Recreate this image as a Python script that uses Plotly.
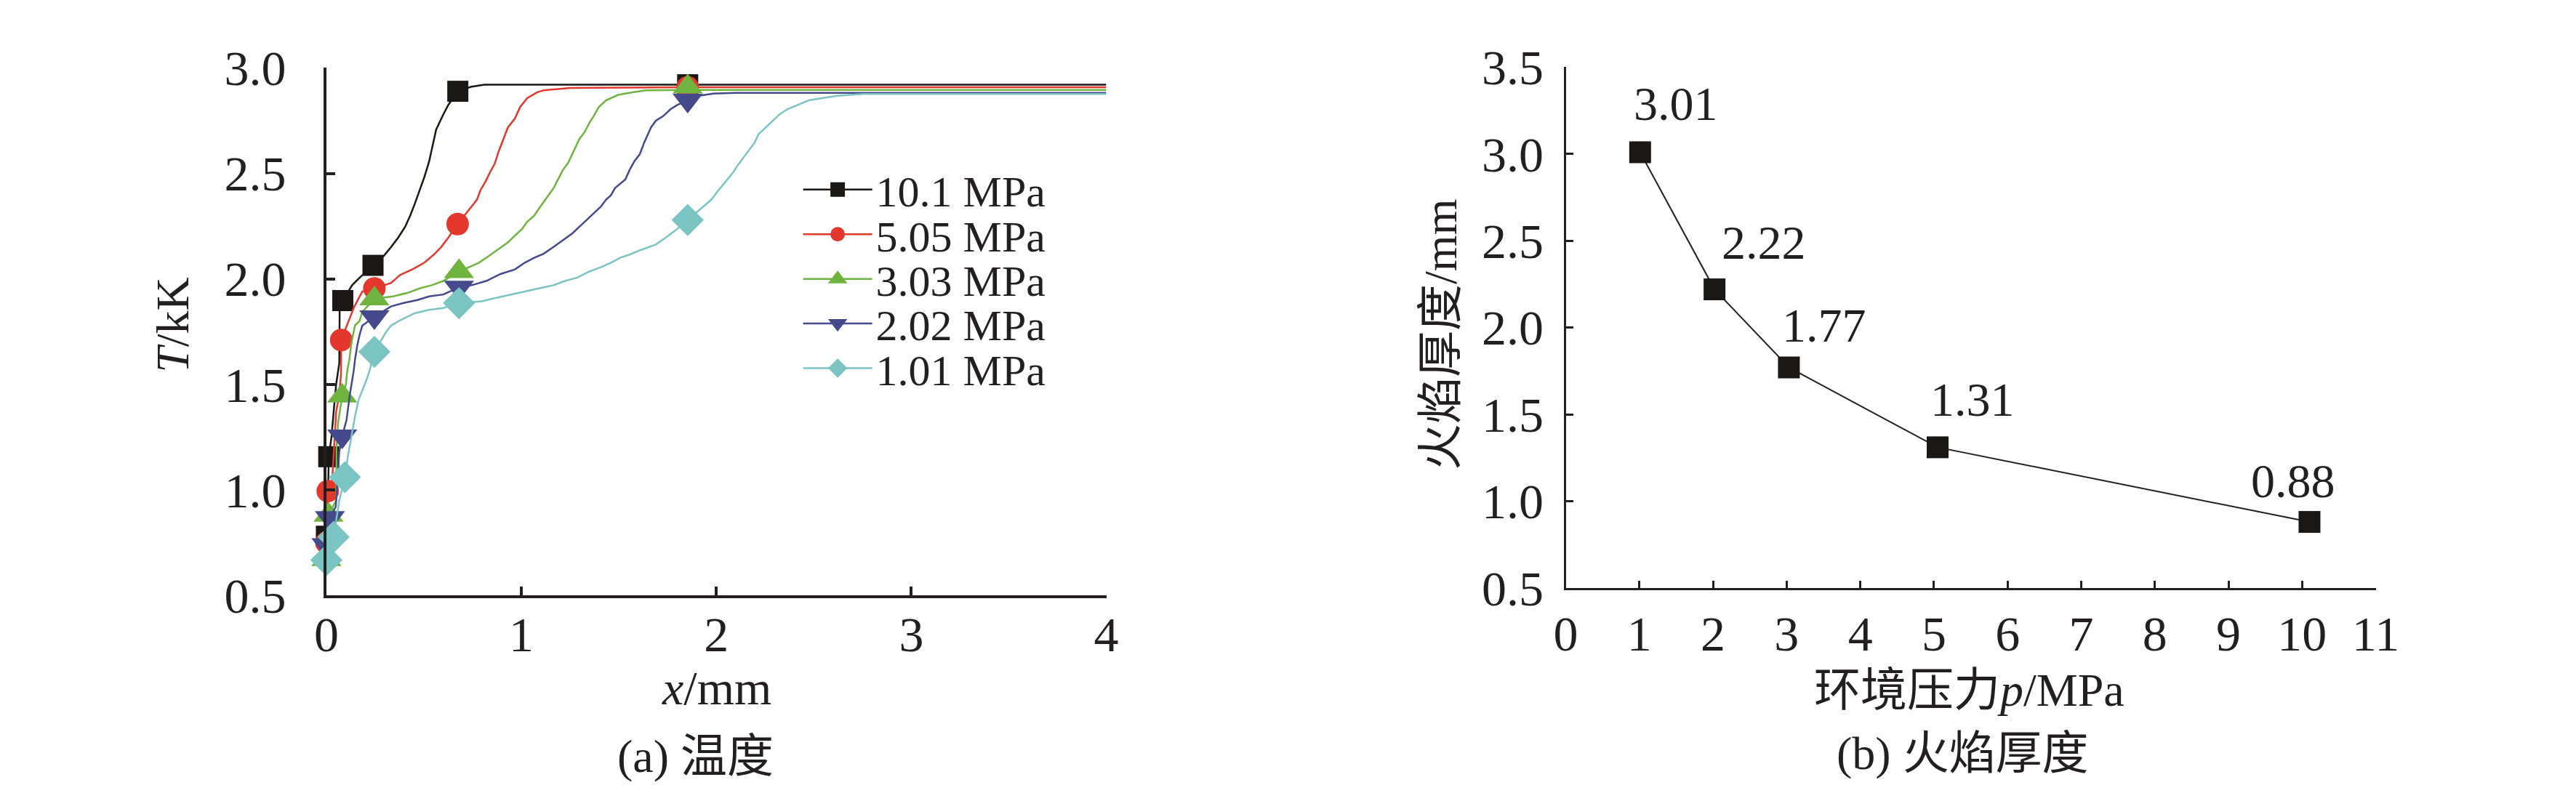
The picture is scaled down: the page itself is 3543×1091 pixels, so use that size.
import plotly.graph_objects as go

# (a) temperature profiles, T/kK versus x/mm, one curve per ambient pressure
x_101 = [0, 0.008, 0.012, 0.026, 0.04, 0.05, 0.066, 0.068, 0.084, 0.132, 0.172, 0.239, 0.294, 0.331,
         0.368, 0.404, 0.43, 0.453, 0.478, 0.503, 0.527, 0.545, 0.563, 0.6, 0.625, 0.674, 0.74, 0.81,
         1.853, 4.0]
T_101 = [0.78, 0.95, 1.157, 1.25, 1.4, 1.5, 1.6, 1.85, 1.897, 1.97, 2.007, 2.064, 2.109, 2.15,
         2.195, 2.247, 2.30, 2.355, 2.42, 2.484, 2.557, 2.63, 2.708, 2.78, 2.824, 2.889, 2.91, 2.92,
         2.92, 2.92]

x_505 = [0, 0.007, 0.03, 0.04, 0.05, 0.066, 0.075, 0.076, 0.118, 0.14, 0.165, 0.184, 0.246, 0.331,
         0.379, 0.441, 0.503, 0.551, 0.588, 0.625, 0.673, 0.735, 0.772, 0.79, 0.816, 0.838, 0.864,
         0.882, 0.908, 0.931, 0.967, 0.993, 1.03, 1.08, 1.115, 1.25, 1.853, 4.0]
T_505 = [0.75, 0.994, 1.05, 1.2, 1.37, 1.45, 1.55, 1.71, 1.81, 1.862, 1.907, 1.94, 1.955, 1.98,
         2.019, 2.045, 2.077, 2.115, 2.15, 2.195, 2.26, 2.333, 2.375, 2.42, 2.461, 2.503, 2.547,
         2.60, 2.664, 2.718, 2.76, 2.814, 2.857, 2.884, 2.894, 2.905, 2.908, 2.908]

x_303 = [0, 0.011, 0.05, 0.052, 0.06, 0.081, 0.1, 0.107, 0.118, 0.129, 0.147, 0.17, 0.184, 0.246,
         0.342, 0.415, 0.478, 0.54, 0.6, 0.68, 0.746, 0.783, 0.834, 0.882, 0.931, 0.967, 1.004,
         1.029, 1.066, 1.09, 1.114, 1.14, 1.165, 1.188, 1.213, 1.239, 1.261, 1.279, 1.298, 1.324,
         1.349, 1.371, 1.397, 1.434, 1.496, 1.57, 1.64, 1.853, 4.0]
T_303 = [0.67, 0.88, 0.95, 1.2, 1.32, 1.445, 1.5, 1.564, 1.62, 1.70, 1.78, 1.80, 1.843, 1.906,
         1.917, 1.933, 1.955, 1.97, 1.99, 2.035, 2.061, 2.077, 2.109, 2.141, 2.173, 2.205, 2.237,
         2.27, 2.30, 2.333, 2.365, 2.397, 2.43, 2.471, 2.516, 2.548, 2.59, 2.622, 2.664, 2.695,
         2.74, 2.772, 2.814, 2.846, 2.872, 2.884, 2.894, 2.895, 2.895]

x_202 = [0, 0.018, 0.048, 0.056, 0.066, 0.081, 0.103, 0.12, 0.129, 0.14, 0.147, 0.158, 0.17, 0.184,
         0.246, 0.331, 0.393, 0.467, 0.527, 0.6, 0.68, 0.746, 0.82, 0.893, 0.967, 1.018, 1.066,
         1.114, 1.165, 1.213, 1.261, 1.298, 1.335, 1.371, 1.408, 1.434, 1.46, 1.48, 1.533, 1.555,
         1.58, 1.607, 1.629, 1.665, 1.69, 1.728, 1.765, 1.80, 1.853, 1.91, 1.985, 2.1, 4.0]
T_202 = [0.74, 0.868, 0.92, 1.05, 1.18, 1.255, 1.33, 1.45, 1.5, 1.564, 1.62, 1.683, 1.734, 1.778,
         1.82, 1.869, 1.885, 1.90, 1.917, 1.926, 1.96, 1.97, 1.99, 2.023, 2.045, 2.077, 2.10,
         2.119, 2.151, 2.183, 2.215, 2.247, 2.279, 2.311, 2.343, 2.375, 2.397, 2.43, 2.471, 2.516,
         2.558, 2.59, 2.644, 2.718, 2.75, 2.772, 2.804, 2.824, 2.846, 2.868, 2.878, 2.882, 2.882]

x_101b = [0, 0.037, 0.066, 0.095, 0.11, 0.129, 0.147, 0.165, 0.184, 0.209, 0.221, 0.246, 0.305,
          0.331, 0.379, 0.452, 0.527, 0.6, 0.68, 0.798, 0.871, 0.945, 1.018, 1.09, 1.165, 1.224,
          1.287, 1.349, 1.408, 1.46, 1.507, 1.555, 1.607, 1.69, 1.74, 1.80, 1.853, 1.923, 1.974,
          2.011, 2.048, 2.085, 2.107, 2.132, 2.169, 2.195, 2.217, 2.254, 2.29, 2.327, 2.364, 2.415,
          2.474, 2.537, 2.621, 2.75, 4.0]
T_101b = [0.667, 0.777, 0.95, 1.06, 1.157, 1.253, 1.35, 1.426, 1.468, 1.53, 1.564, 1.654, 1.747,
          1.778, 1.804, 1.837, 1.853, 1.862, 1.885, 1.894, 1.91, 1.926, 1.94, 1.955, 1.97, 1.99,
          2.006, 2.035, 2.055, 2.077, 2.10, 2.115, 2.135, 2.163, 2.195, 2.237, 2.279, 2.333, 2.375,
          2.42, 2.461, 2.503, 2.535, 2.567, 2.612, 2.644, 2.686, 2.718, 2.75, 2.782, 2.804, 2.824,
          2.846, 2.856, 2.868, 2.876, 2.876]

# marked grid points on each curve
mx_101 = [0, 0.012, 0.084, 0.239, 0.674, 1.853]
mT_101 = [0.78, 1.157, 1.897, 2.064, 2.889, 2.92]
mx_505 = [0, 0.007, 0.076, 0.246, 0.673, 1.853]
mT_505 = [0.75, 0.994, 1.71, 1.955, 2.26, 2.908]
mx_303 = [0, 0.011, 0.081, 0.246, 0.68, 1.853]
mT_303 = [0.67, 0.88, 1.445, 1.906, 2.035, 2.91]
mx_202 = [0, 0.018, 0.081, 0.246, 0.68, 1.853]
mT_202 = [0.74, 0.868, 1.255, 1.82, 1.96, 2.846]
mx_101b = [0, 0.037, 0.095, 0.246, 0.68, 1.853]
mT_101b = [0.667, 0.777, 1.06, 1.654, 1.885, 2.279]

labels = ["10.1 MPa", "5.05 MPa", "3.03 MPa", "2.02 MPa", "1.01 MPa"]

# (b) flame thickness versus ambient pressure
pressure = [1.01, 2.02, 3.03, 5.05, 10.1]
thickness = [3.01, 2.22, 1.77, 1.31, 0.88]

INK = "#231f20"
FONT = "Liberation Serif, Noto Sans CJK SC, serif"
W, H = 3543, 1091

series = [
    (x_101, T_101, mx_101, mT_101, "#1a1714", "square", 29),
    (x_505, T_505, mx_505, mT_505, "#e4382f", "circle", 31),
    (x_303, T_303, mx_303, mT_303, "#6eb43f", "triangle-up", 36),
    (x_202, T_202, mx_202, mT_202, "#444a8b", "triangle-down", 36),
    (x_101b, T_101b, mx_101b, mT_101b, "#7bc4c4", "diamond", 34),
]


def px_x(v):
    return v / W


def px_y(v):
    return (H - v) / H


fig = go.Figure()

# one small legend per row so the rows can sit as tight as in the original
legend_rows = [232, 298, 364, 430, 496]
legend_layout = {}

for i, ((xs, ts, mxs, mts, color, symbol, size), label) in enumerate(zip(series, labels)):
    legend_key = "legend" if i == 0 else f"legend{i + 1}"
    fig.add_trace(go.Scatter(
        x=xs, y=ts, mode="lines",
        line=dict(color=color, width=2.5),
        showlegend=False, xaxis="x", yaxis="y"
    ))
    fig.add_trace(go.Scatter(
        x=mxs, y=mts, mode="markers",
        marker=dict(symbol=symbol, size=size, color=color, line=dict(width=0)),
        cliponaxis=False, showlegend=False, xaxis="x", yaxis="y"
    ))
    # legend entry only
    fig.add_trace(go.Scatter(
        x=[None], y=[None], mode="lines+markers", name=label,
        line=dict(color=color, width=2.5),
        marker=dict(symbol=symbol, size=16, color=color, line=dict(width=4, color=color)),
        legend=legend_key, xaxis="x", yaxis="y"
    ))
    legend_layout[legend_key] = dict(
        x=px_x(1090), y=px_y(legend_rows[i]), xanchor="left", yanchor="middle",
        bgcolor="rgba(0,0,0,0)", borderwidth=0, itemwidth=95,
        font=dict(size=60, color=INK, family=FONT),
    )

fig.add_trace(go.Scatter(
    x=pressure, y=thickness, mode="lines+markers",
    line=dict(color=INK, width=2),
    marker=dict(symbol="square", size=30, color="#1a1714"),
    cliponaxis=False, showlegend=False, xaxis="x2", yaxis="y2"
))

label_dx = [49, 68, 49, 48, -22]
label_dy = [67, 65, 58, 66, 57]
for p, t, dx, dy in zip(pressure, thickness, label_dx, label_dy):
    fig.add_annotation(
        x=p, y=t, xref="x2", yref="y2", text=f"{t:.2f}", showarrow=False,
        xanchor="center", yanchor="middle", xshift=dx, yshift=dy,
        font=dict(size=66, color=INK, family=FONT)
    )

axis_common = dict(
    showline=True, linecolor=INK, ticks="inside", tickcolor=INK,
    showgrid=False, zeroline=False,
    tickfont=dict(size=68, color=INK, family=FONT),
)

fig.update_layout(
    width=W, height=H,
    margin=dict(l=0, r=0, t=0, b=0),
    paper_bgcolor="white", plot_bgcolor="white",
    font=dict(family=FONT, color=INK),
    xaxis=dict(domain=[px_x(430), px_x(1518)], range=[0, 4], dtick=1, anchor="y",
               linewidth=3.5, tickwidth=3.5, ticklen=12, ticklabelstandoff=-8, **axis_common),
    yaxis=dict(domain=[px_y(832), px_y(52)], range=[0.5, 3.0], dtick=0.5, tickformat=".1f",
               anchor="x", linewidth=3.5, tickwidth=3.5, ticklen=12, ticklabelstandoff=38,
               **axis_common),
    xaxis2=dict(domain=[px_x(2159), px_x(3289)], range=[0, 11], dtick=1, anchor="y2",
                linewidth=3, tickwidth=3, ticklen=10, ticklabelstandoff=2, **axis_common),
    yaxis2=dict(domain=[px_y(821), px_y(51)], range=[0.5, 3.5], dtick=0.5, tickformat=".1f",
                anchor="x2", linewidth=3, tickwidth=3, ticklen=10, ticklabelstandoff=14,
                **axis_common),
    **legend_layout,
)

texts = [
    ("<i>T</i>/kK", 216, 432, -90, 64),
    ("<i>x</i>/mm", 974, 969, 0, 66),
    ("(a) 温度", 945, 1070, 0, 64),
    ("火焰厚度/mm", 1985, 446, -90, 64),
    ("环境压力<i>p</i>/MPa", 2722, 972, 0, 64),
    ("(b) 火焰厚度", 2713, 1066, 0, 64),
]
for text, cx, cy, angle, size in texts:
    fig.add_annotation(
        x=px_x(cx), y=px_y(cy), xref="paper", yref="paper", text=text,
        showarrow=False, textangle=angle, xanchor="center", yanchor="middle",
        font=dict(size=size, color=INK, family=FONT)
    )

fig.write_html("out.html")
